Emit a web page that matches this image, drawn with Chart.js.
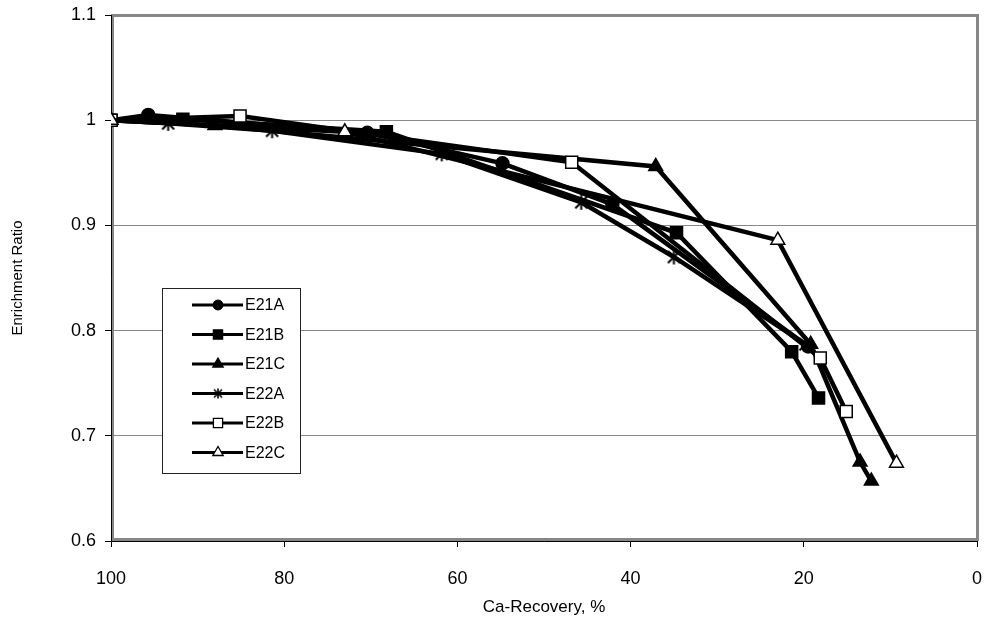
<!DOCTYPE html>
<html>
<head>
<meta charset="utf-8">
<script src="https://cdn.jsdelivr.net/npm/chart.js@4.4.1/dist/chart.umd.min.js"></script>
<style>
  html, body { margin: 0; padding: 0; background: #fff; }
  #wrap { width: 987px; height: 621px; }
</style>
</head>
<body>
<div id="wrap"><canvas id="c" width="987" height="621"></canvas></div>
<script>
// Ca-recovery (%) and enrichment ratio for each test run
const seriesNames = ['E21A', 'E21B', 'E21C', 'E22A', 'E22B', 'E22C'];

const e21aRecovery = [100, 95.7, 70.4, 54.8, 42.1, 19.5];
const e21aRatio    = [1.0, 1.005, 0.988, 0.959, 0.920, 0.785];

const e21bRecovery = [100, 91.7, 68.2, 34.7, 21.4, 18.3];
const e21bRatio    = [1.0, 1.001, 0.989, 0.893, 0.780, 0.736];

const e21cRecovery = [100, 88.0, 37.1, 19.2, 13.5, 12.2];
const e21cRatio    = [1.0, 0.995, 0.956, 0.787, 0.675, 0.657];

const e22aRecovery = [100, 93.4, 81.4, 61.8, 45.7, 35.0, 19.8];
const e22aRatio    = [1.0, 0.997, 0.990, 0.968, 0.922, 0.870, 0.787];

const e22bRecovery = [100, 85.1, 46.8, 18.1, 15.1];
const e22bRatio    = [1.0, 1.004, 0.960, 0.774, 0.723];

const e22cRecovery = [100, 73.0, 23.0, 9.3];
const e22cRatio    = [1.0, 0.989, 0.886, 0.674];

const xTickValues = [100, 80, 60, 40, 20, 0];
const yTickValues = [0.6, 0.7, 0.8, 0.9, 1.0, 1.1];

const FONT = "'Liberation Sans', Arial, Helvetica, sans-serif";

// Asterisk marker (vertical bar + X) drawn on a small canvas
function makeAsterisk(size, lw) {
  const cv = document.createElement('canvas');
  cv.width = size; cv.height = size;
  const g = cv.getContext('2d');
  const c = size / 2, r = size / 2 - 1;
  g.strokeStyle = '#000';
  g.lineWidth = lw;
  g.beginPath();
  g.moveTo(c, c - r); g.lineTo(c, c + r);
  const d = r * 0.8;
  g.moveTo(c - d, c - d); g.lineTo(c + d, c + d);
  g.moveTo(c - d, c + d); g.lineTo(c + d, c - d);
  g.stroke();
  return cv;
}
const starBig = makeAsterisk(17, 2);
const starSmall = makeAsterisk(12, 1.6);

function pts(xs, ys) { return xs.map((x, i) => ({ x: x, y: ys[i] })); }

const markerStyles = [
  { style: 'circle',   radius: 6.5, fill: '#000', legendRadius: 4.8 },
  { style: 'rect',     radius: 8.5, fill: '#000', legendRadius: 6.5 },
  { style: 'triangle', radius: 8,   fill: '#000', legendRadius: 6 },
  { style: starBig,    radius: 8,   fill: '#000', legendRadius: 6, legendStyle: starSmall },
  { style: 'rect',     radius: 8.5, fill: '#fff', legendRadius: 6.5 },
  { style: 'triangle', radius: 8,   fill: '#fff', legendRadius: 6 }
];

const seriesData = [
  pts(e21aRecovery, e21aRatio),
  pts(e21bRecovery, e21bRatio),
  pts(e21cRecovery, e21cRatio),
  pts(e22aRecovery, e22aRatio),
  pts(e22bRecovery, e22bRatio),
  pts(e22cRecovery, e22cRatio)
];

const datasets = seriesNames.map((name, i) => ({
  label: name,
  data: seriesData[i],
  borderColor: '#000',
  borderWidth: 4.5,
  backgroundColor: markerStyles[i].fill,
  pointStyle: markerStyles[i].style,
  pointRadius: markerStyles[i].radius,
  pointHoverRadius: markerStyles[i].radius,
  pointBackgroundColor: markerStyles[i].fill,
  pointBorderColor: '#000',
  pointBorderWidth: 1.5,
  showLine: true,
  tension: 0,
  order: seriesNames.length - i
}));

// Gray plot-area frame with black axis lines on the left and bottom
const framePlugin = {
  id: 'frame',
  beforeDatasetsDraw(chart) {
    const { ctx, chartArea: a } = chart;
    ctx.save();
    ctx.strokeStyle = '#878787';
    ctx.lineWidth = 3;
    ctx.strokeRect(a.left + 1.5, a.top + 0.5, a.right - a.left - 1, a.bottom - a.top - 2);
    ctx.strokeStyle = '#000';
    ctx.lineWidth = 1;
    ctx.beginPath();
    ctx.moveTo(a.left + 0.5, a.top);
    ctx.lineTo(a.left + 0.5, a.bottom + 0.5);
    ctx.lineTo(a.right + 1, a.bottom + 0.5);
    ctx.stroke();
    ctx.restore();
  }
};

// Boxed legend inside the plot area
const legendPlugin = {
  id: 'boxLegend',
  afterDatasetsDraw(chart) {
    const { ctx } = chart;
    const boxL = 162.5, boxT = 288.5, boxW = 138, boxH = 185;
    ctx.save();
    ctx.fillStyle = '#fff';
    ctx.fillRect(boxL, boxT, boxW, boxH);
    ctx.strokeStyle = '#222';
    ctx.lineWidth = 1;
    ctx.strokeRect(boxL, boxT, boxW, boxH);
    chart.data.datasets.forEach((ds, i) => {
      const y = 305 + i * 29.5;
      ctx.strokeStyle = '#000';
      ctx.lineWidth = 3;
      ctx.beginPath();
      ctx.moveTo(192, y);
      ctx.lineTo(243, y);
      ctx.stroke();
      const m = markerStyles[i];
      ctx.fillStyle = m.fill;
      ctx.strokeStyle = '#000';
      ctx.lineWidth = 1.3;
      Chart.helpers.drawPoint(ctx, {
        pointStyle: m.legendStyle || m.style,
        rotation: 0,
        radius: m.legendRadius,
        borderWidth: 1.3
      }, 218, y);
      ctx.fillStyle = '#000';
      ctx.font = '16px ' + FONT;
      ctx.textAlign = 'left';
      ctx.textBaseline = 'middle';
      ctx.fillText(ds.label, 245, y + 1);
    });
    ctx.restore();
  }
};

new Chart(document.getElementById('c'), {
  type: 'scatter',
  data: { datasets: datasets },
  options: {
    responsive: false,
    devicePixelRatio: 1,
    animation: false,
    events: [],
    layout: { padding: { top: 15, right: 7, left: 0, bottom: 0 } },
    plugins: {
      legend: { display: false },
      tooltip: { enabled: false },
      title: { display: false }
    },
    scales: {
      x: {
        type: 'linear',
        reverse: true,
        min: 0,
        max: 100,
        afterBuildTicks(s) { s.ticks = xTickValues.map(v => ({ value: v })); },
        ticks: {
          color: '#000',
          font: { family: FONT, size: 18 },
          padding: 21,
          maxRotation: 0,
          autoSkip: false
        },
        grid: { drawOnChartArea: false, drawTicks: true, tickLength: 6, tickColor: '#000' },
        border: { display: false },
        title: {
          display: true,
          text: 'Ca-Recovery, %',
          color: '#000',
          font: { family: FONT, size: 17 },
          padding: { top: 0, bottom: 3 }
        },
        afterFit(s) {
          s.height = 80;
          s.paddingLeft = 0;
          s.paddingRight = 0;
        }
      },
      y: {
        min: 0.6,
        max: 1.1,
        afterBuildTicks(s) { s.ticks = yTickValues.map(v => ({ value: v })); },
        ticks: {
          color: '#000',
          font: { family: FONT, size: 18 },
          padding: 9,
          callback: v => String(Math.round(v * 10) / 10)
        },
        grid: { color: '#878787', lineWidth: 1, drawTicks: true, tickLength: 6, tickColor: '#000' },
        border: { display: false },
        title: {
          display: true,
          text: 'Enrichment Ratio',
          color: '#000',
          font: { family: FONT, size: 15 },
          padding: { top: 9, bottom: 0 }
        },
        afterFit(s) {
          s.width = 111;
          s.paddingTop = 0;
          s.paddingBottom = 0;
        }
      }
    }
  },
  plugins: [framePlugin, legendPlugin]
});
</script>
</body>
</html>
